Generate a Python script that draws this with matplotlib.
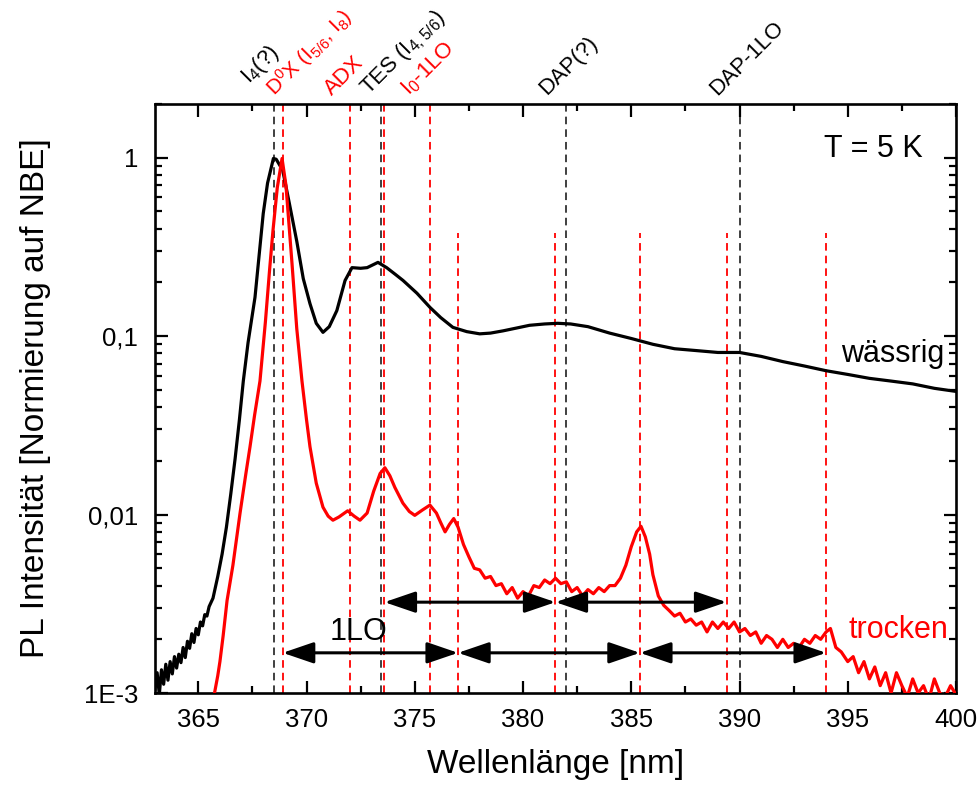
import matplotlib
matplotlib.use("Agg")
import matplotlib.pyplot as plt
from matplotlib.ticker import FixedLocator, LogLocator, MultipleLocator, NullFormatter

plt.rcParams["font.family"] = ["Liberation Sans", "DejaVu Sans"]
plt.rcParams["mathtext.fontset"] = "custom"
plt.rcParams["mathtext.rm"] = "Liberation Sans"
plt.rcParams["mathtext.default"] = "regular"

# PL spectrum, aqueous sample (normalised to NBE)
wl_waessrig = [363.00, 363.10, 363.20, 363.30, 363.40, 363.50, 363.60, 363.70, 363.80, 363.90,
               364.00, 364.10, 364.20, 364.30, 364.40, 364.50, 364.60, 364.70, 364.80, 364.90,
               365.00, 365.10, 365.20, 365.30, 365.40, 365.50, 365.68, 365.90, 366.10, 366.30,
               366.50, 366.70, 366.90, 367.08, 367.30, 367.62, 368.00, 368.20, 368.47, 368.60,
               368.90, 369.20, 369.55, 369.85, 370.16, 370.45, 370.76, 371.05, 371.40, 371.78,
               372.10, 372.50, 372.80, 373.30, 373.70, 374.10, 374.46, 375.10, 375.70, 376.20,
               376.76, 377.40, 378.00, 378.50, 379.07, 379.70, 380.30, 381.00, 381.60, 382.20,
               383.00, 384.00, 385.00, 386.00, 387.00, 388.00, 389.00, 390.00, 391.00, 392.00,
               393.00, 394.00, 395.00, 396.00, 397.00, 398.00, 399.00, 400.00]
int_waessrig = [0.00105, 0.00130, 0.00098, 0.00135, 0.00112, 0.00145, 0.00118, 0.00150, 0.00128, 0.00160,
                0.00138, 0.00165, 0.00148, 0.00180, 0.00158, 0.00195, 0.00178, 0.00215, 0.00192, 0.00230,
                0.00212, 0.00250, 0.00238, 0.00275, 0.00270, 0.00305, 0.0034, 0.0045, 0.0060, 0.0085,
                0.0130, 0.0205, 0.034, 0.056, 0.092, 0.165, 0.486, 0.72, 0.99, 0.98,
                0.85, 0.56, 0.34, 0.21, 0.152, 0.118, 0.105, 0.113, 0.139, 0.205,
                0.242, 0.240, 0.242, 0.259, 0.242, 0.222, 0.205, 0.174, 0.145, 0.127,
                0.112, 0.106, 0.103, 0.104, 0.107, 0.111, 0.115, 0.117, 0.118, 0.117,
                0.113, 0.104, 0.097, 0.090, 0.085, 0.083, 0.081, 0.081, 0.077, 0.072,
                0.068, 0.064, 0.061, 0.058, 0.056, 0.054, 0.051, 0.049]

# PL spectrum, dried sample (normalised to NBE)
wl_trocken = [365.75, 365.90, 366.00, 366.15, 366.33, 366.60, 366.93, 367.20, 367.39, 367.60,
              367.85, 368.10, 368.30, 368.45, 368.65, 368.87, 369.05, 369.33, 369.55, 369.79,
              370.00, 370.16, 370.45, 370.76, 371.00, 371.22, 371.50, 371.90, 372.20, 372.47,
              372.80, 373.10, 373.40, 373.62, 373.85, 374.08, 374.45, 374.75, 375.00, 375.35,
              375.70, 376.00, 376.20, 376.40, 376.60, 376.80,
              377.00, 377.25, 377.50, 377.75, 378.00, 378.25, 378.50, 378.75, 379.00, 379.25,
              379.50, 379.75, 380.00, 380.25, 380.50, 380.75, 381.00, 381.25, 381.50, 381.75,
              382.00, 382.25, 382.50, 382.75, 383.00, 383.25, 383.50, 383.75, 384.00, 384.25,
              384.50, 384.75, 385.00, 385.25, 385.45, 385.65, 385.85, 386.00, 386.25, 386.50,
              386.75, 387.00, 387.25, 387.50, 387.75, 388.00, 388.25, 388.50, 388.75, 389.00,
              389.25, 389.50, 389.75, 390.00, 390.25, 390.50, 390.75, 391.00, 391.25, 391.50,
              391.75, 392.00, 392.25, 392.50, 392.75, 393.00, 393.25, 393.50, 393.75, 394.00,
              394.20, 394.45, 394.70, 395.00, 395.25, 395.50, 395.75, 396.00, 396.25, 396.50,
              396.75, 397.00, 397.25, 397.50, 397.75, 398.00, 398.25, 398.50, 398.75, 399.00,
              399.25, 399.50, 399.75, 400.00]
int_trocken = [0.00100, 0.00125, 0.0015, 0.0021, 0.0033, 0.0052, 0.0102, 0.017, 0.024, 0.036,
               0.056, 0.12, 0.24, 0.39, 0.68, 0.99, 0.70, 0.255, 0.11, 0.056,
               0.034, 0.024, 0.015, 0.011, 0.0098, 0.0093, 0.0097, 0.0105, 0.0098, 0.0093,
               0.0102, 0.0135, 0.0170, 0.0183, 0.0165, 0.0142, 0.0116, 0.0104, 0.0099, 0.0106,
               0.0113, 0.0102, 0.0090, 0.0080, 0.0088, 0.0095,
               0.0085, 0.0068, 0.0058, 0.0050, 0.0049, 0.0044, 0.0045, 0.0040, 0.0041, 0.0036,
               0.0039, 0.0034, 0.0037, 0.0035, 0.0040, 0.0039, 0.0043, 0.0041, 0.0044, 0.0041,
               0.0042, 0.0037, 0.0039, 0.0035, 0.0038, 0.0036, 0.0039, 0.0037, 0.0040, 0.0040,
               0.0044, 0.0052, 0.0066, 0.0080, 0.0086, 0.0075, 0.0060, 0.0046, 0.0035, 0.0031,
               0.0029, 0.0027, 0.0028, 0.0025, 0.0026, 0.0024, 0.0025, 0.0022, 0.0025, 0.0023,
               0.0025, 0.0023, 0.0025, 0.0022, 0.0023, 0.0021, 0.0022, 0.0019, 0.0021, 0.0020,
               0.0018, 0.0020, 0.0018, 0.0019, 0.0018, 0.0020, 0.0019, 0.0021, 0.0020, 0.0022,
               0.0023, 0.0018, 0.0017, 0.0015, 0.0016, 0.0013, 0.0015, 0.0012, 0.0014, 0.0011,
               0.0013, 0.0010, 0.0013, 0.0011, 0.00095, 0.0012, 0.0010, 0.0011, 0.00092, 0.0012,
               0.0010, 0.00095, 0.0011, 0.00098]

# Assigned transitions (full-height markers with labels)
black_lines = [368.5, 373.44, 382.0, 390.0]
black_labels = ["I$_4$(?)", "TES (I$_{4,5/6}$)", "DAP(?)", "DAP-1LO"]
red_lines = [368.9, 372.0, 373.6, 375.7]
red_labels = ["D$^0$X (I$_{5/6}$, I$_8$)", "ADX", None, "I$_0$-1LO"]
# LO replica positions (shorter markers)
replica_lines = [377.0, 381.5, 385.4, 389.4, 394.0]

# 1LO spacing arrows (start, end)
arrows_lower = [(368.9, 377.0), (377.0, 385.4), (385.4, 394.0)]
arrows_upper = [(373.6, 381.5), (381.5, 389.4)]

RED = "#ff0000"
DARK = "#303030"

fig = plt.figure(figsize=(9.79, 7.87), dpi=100)
ax = fig.add_axes([0.1583, 0.1194, 0.8182, 0.7485])

ax.set_xlim(363, 400)
ax.set_yscale("log")
ax.set_ylim(1e-3, 2.0)

dash = dict(lw=1.3, dashes=(4.2, 2.8))
for x in black_lines:
    ax.axvline(x, color=DARK, zorder=1, **dash)
for x in red_lines:
    ax.axvline(x, color=RED, zorder=1, **dash)
for x in replica_lines:
    ax.plot([x, x], [1e-3, 0.38], color=RED, zorder=1, **dash)

ax.plot(wl_waessrig, int_waessrig, color="black", lw=2.3, zorder=3)
ax.plot(wl_trocken, int_trocken, color=RED, lw=2.3, zorder=3)

arrow_style = dict(arrowstyle="<|-|>,head_length=1.9,head_width=0.65", color="black",
                   lw=2.2, shrinkA=0, shrinkB=0)
for (a, b) in arrows_lower:
    ax.annotate("", xy=(b, 0.00168), xytext=(a, 0.00168), arrowprops=arrow_style, zorder=4)
for (a, b) in arrows_upper:
    ax.annotate("", xy=(b, 0.00323), xytext=(a, 0.00323), arrowprops=arrow_style, zorder=4)

ax.text(372.4, 0.00182, "1LO", fontsize=22, ha="center", va="bottom")

# labels above the frame, rotated 45 degrees: (x offset, y offset) in points, font size
black_fmt = [((-18, 14), 16), ((-9, 6), 16), ((-14, 6), 16), ((-16, 6), 16)]
red_fmt = [((-6, 5), 15), ((-13, 6), 16), None, ((-15, 6), 16)]
for x, lab, fmt in zip(black_lines, black_labels, black_fmt):
    off, size = fmt
    ax.annotate(lab, xy=(x, 1.0), xycoords=("data", "axes fraction"),
                xytext=off, textcoords="offset points", rotation=45,
                rotation_mode="anchor", ha="left", va="baseline", fontsize=size,
                color="black", annotation_clip=False)
for x, lab, fmt in zip(red_lines, red_labels, red_fmt):
    if lab is None:
        continue
    off, size = fmt
    ax.annotate(lab, xy=(x, 1.0), xycoords=("data", "axes fraction"),
                xytext=off, textcoords="offset points", rotation=45,
                rotation_mode="anchor", ha="left", va="baseline", fontsize=size,
                color=RED, annotation_clip=False)

ax.text(0.959, 0.924, "T = 5 K", transform=ax.transAxes, fontsize=22, ha="right", va="center")
ax.text(0.986, 0.562, "wässrig", transform=ax.transAxes, fontsize=22, ha="right", va="baseline")
ax.text(0.990, 0.093, "trocken", transform=ax.transAxes, fontsize=22, ha="right",
        va="baseline", color=RED)

ax.xaxis.set_major_locator(MultipleLocator(5))
ax.xaxis.set_minor_locator(MultipleLocator(2.5))
ax.yaxis.set_major_locator(FixedLocator([1e-3, 1e-2, 1e-1, 1]))
ax.set_yticklabels(["1E-3", "0,01", "0,1", "1"])
ax.yaxis.set_minor_locator(LogLocator(base=10, subs=range(2, 10)))
ax.yaxis.set_minor_formatter(NullFormatter())

ax.tick_params(which="both", direction="in", top=True, right=True, width=1.6)
ax.tick_params(which="major", length=9, labelsize=18.5)
ax.tick_params(axis="x", which="major", pad=11)
ax.tick_params(axis="y", which="major", pad=12)
ax.tick_params(which="minor", length=5)
for s in ax.spines.values():
    s.set_linewidth(1.9)

ax.set_xlabel("Wellenlänge [nm]", fontsize=24, labelpad=12)
ax.set_ylabel("PL Intensität [Normierung auf NBE]", fontsize=24, labelpad=24)

fig.savefig("out.png", dpi=100)
